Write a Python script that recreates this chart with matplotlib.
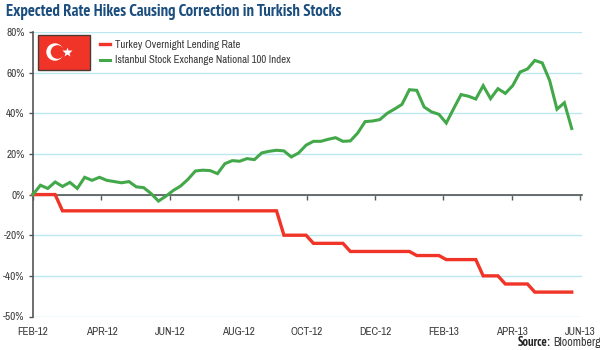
# Turkish stocks vs overnight lending rate
import matplotlib
matplotlib.use('Agg')
import matplotlib.pyplot as plt
from matplotlib.patches import Rectangle, Circle
import matplotlib.font_manager as fm
import numpy as np

# narrow faces if the machine has them, plain Liberation otherwise
installed = set(f.name for f in fm.fontManager.ttflist)
narrow = [n for n in ['Archivo Narrow', 'Roboto Condensed', 'PT Sans Narrow'] if n in installed]
narrow_bold = [n for n in ['PT Sans Narrow', 'Pragati Narrow'] if n in installed]
plt.rcParams['font.family'] = narrow + ['Liberation Sans', 'DejaVu Sans']
bold_family = narrow_bold + ['Liberation Sans', 'DejaVu Sans']

# weekly values, % change since Feb-12
istanbul_100 = [0, 4.6, 3, 6.2, 4, 6, 3, 8.5, 7, 8.5, 7, 6.4, 5.8, 6.4, 3.8, 3.4, 0.5, -3.2,
                -0.8, 2, 4.2, 7.5, 11.6, 12, 11.8, 10.3, 15.2, 16.7, 16.4, 17.7, 17.2, 20.5,
                21.3, 21.8, 21.5, 18.5, 20.5, 24.3, 26.2, 26.2, 27.2, 28, 26.2, 26.4, 30.3,
                35.9, 36.2, 36.9, 40, 42.1, 44.4, 51.6, 51.3, 43.1, 40.7, 39.5, 35.2, 42.3,
                49.2, 48.4, 47, 53.6, 47.2, 52.1, 49.8, 53.6, 60.3, 61.8, 66, 64.8, 56.2,
                42, 45.2, 32.5]
overnight_rate = [0] * 4 + [-8] * 30 + [-20] * 4 + [-24] * 5 + [-28] * 9 + [-30] * 4 + \
                 [-32] * 5 + [-40] * 3 + [-44] * 4 + [-48] * 6
month_labels = ['FEB-12', 'APR-12', 'JUN-12', 'AUG-12', 'OCT-12', 'DEC-12', 'FEB-13', 'APR-13', 'JUN-13']
y_ticks = [80, 60, 40, 20, 0, -20, -40, -60]
# the bottom gridline sits one even step below -40 but the source labels it -50%
y_labels = ['80%', '60%', '40%', '20%', '0%', '-20%', '-40%', '-50%']

W, H = 600, 350
fig = plt.figure(figsize=(6, 3.5), dpi=100)
ax = fig.add_axes([33 / W, 1 - 316.5 / H, (582 - 33) / W, (316.5 - 32) / H])

weeks = np.arange(len(istanbul_100))
ax.plot(weeks, overnight_rate, color='#f03428', lw=2.4, solid_joinstyle='miter', clip_on=False, zorder=3,
        label='Turkey Overnight Lending Rate')
ax.plot(weeks, istanbul_100, color='#43a84a', lw=2.2, solid_joinstyle='miter', clip_on=False, zorder=4,
        label='Istanbul Stock Exchange National 100 Index')

week_per_tick = 68.4 / 7.38
ax.set_xlim(0, 549 / 7.38)
ax.set_ylim(-60, 80)
ax.set_xticks([i * week_per_tick for i in range(len(month_labels))])
ax.set_xticklabels(month_labels)
ax.set_yticks(y_ticks)
ax.set_yticklabels(y_labels)
ax.tick_params(axis='x', length=3.6, width=1, color='#555555', labelcolor='#3a3a3a', labelsize=8, pad=91.5)
ax.tick_params(axis='y', length=3, width=1, color='#555555', labelcolor='#3a3a3a', labelsize=8, pad=3)

ax.grid(axis='y', color='#bce6f0', lw=1)
ax.set_axisbelow(True)
for s in ['top', 'right']:
    ax.spines[s].set_visible(False)
ax.spines['bottom'].set_position(('data', 0))
ax.spines['bottom'].set_color('#555555')
ax.spines['left'].set_color('#555555')
ax.spines['bottom'].set_linewidth(1.2)
ax.spines['left'].set_linewidth(1.2)
ax.spines['bottom'].set_zorder(2)

ax.legend(loc='upper left', bbox_to_anchor=(65 / 549, 0.98), frameon=False, fontsize=7.8,
          handlelength=0.9, handletextpad=0.5, labelspacing=0.52, labelcolor='#3a3a3a',
          borderpad=0.2, borderaxespad=0)

# flag, in pixels from the top-left corner
pix = matplotlib.transforms.Affine2D().scale(1, -1).translate(0, H)
fig.add_artist(Rectangle((37.5, 34.5), 52.5, 35, transform=pix, fc='#f03428', ec='#4a3a38', lw=1, zorder=5))
fig.add_artist(Circle((55, 52), 8.7, transform=pix, fc='white', ec='none', zorder=6))
fig.add_artist(Circle((57.5, 52), 6.8, transform=pix, fc='#f03428', ec='none', zorder=7))
fig.add_artist(plt.Line2D([67], [52], transform=pix, marker='*', ms=7.5, mfc='white', mec='none', zorder=8))

fig.text(6 / W, 1 - 12 / H, 'Expected Rate Hikes Causing Correction in Turkish Stocks', color='#1b4e7e',
         fontsize=12, fontweight='bold', family=bold_family, ha='left', va='center')
fig.text(550.5 / W, 1 - 342 / H, 'Source:', color='#222222', fontsize=9, fontweight='bold', family=bold_family,
         ha='right', va='center')
fig.text(553 / W, 1 - 342 / H, 'Bloomberg', color='#3a3a3a', fontsize=8.6, ha='left', va='center')

fig.savefig('out.png', dpi=100)
